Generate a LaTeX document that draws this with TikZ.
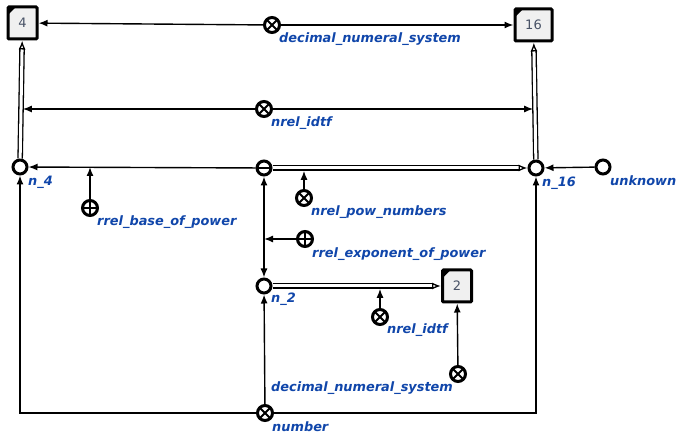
\documentclass[tikz,border=0pt]{standalone}
\usepackage{fontspec}
\usetikzlibrary{arrows.meta,positioning,calc}
\newfontfamily\scgfont{DejaVu Sans}
\definecolor{idtfblue}{RGB}{16,70,170}
\definecolor{linkgray}{RGB}{240,240,240}
\definecolor{linktext}{RGB}{72,82,102}

\tikzset{
  scgnode/.style={circle,draw,line width=3pt,fill=white,minimum size=14pt,inner sep=0pt},
  tuplenode/.style={scgnode,path picture={\draw[line width=2.4pt] (path picture bounding box.west) -- (path picture bounding box.east);}},
  relnode/.style={scgnode,minimum size=15pt,path picture={
      \draw[line width=2pt] (path picture bounding box.north west) -- (path picture bounding box.south east)
        (path picture bounding box.north east) -- (path picture bounding box.south west);}},
  rolenode/.style={scgnode,minimum size=15pt,path picture={
      \draw[line width=1.6pt] (path picture bounding box.north) -- (path picture bounding box.south)
        (path picture bounding box.west) -- (path picture bounding box.east);}},
  linkbox/.style={draw,line width=3pt,rounded corners=1pt,fill=linkgray,minimum width=29pt,minimum height=32pt,
      font=\scgfont\fontsize{13}{15}\selectfont,text=linktext,
      path picture={\fill[black] (path picture bounding box.north west) -- ++(8pt,0pt) -- ++(-8pt,-8pt) -- cycle;}},
  idtf/.style={font=\scgfont\bfseries\itshape\fontsize{12.9}{15}\selectfont,text=idtfblue,anchor=base west,inner sep=0pt},
  arc/.style={line width=1.4pt,-{Latex[length=9pt,width=7pt]}},
  biarc/.style={line width=1.4pt,{Latex[length=9pt,width=7pt]}-{Latex[length=9pt,width=7pt]}},
  commonarc/.style={double=white,double distance=3pt,line width=1.3pt,-{Latex[open,length=9pt,width=7pt]}},
  onpair/.style={shorten >=2.8pt}
}

\begin{document}
\begin{tikzpicture}[x=1pt,y=-1pt]
  \useasboundingbox (0,0) rectangle (685,443);

  % links
  \node[linkbox] (box4) at (22.5,23) {4};
  \node[linkbox,minimum width=37pt] (box16) at (533.5,25) {16};
  \node[linkbox] (box2) at (457,286) {2};

  % nodes
  \node[relnode] (dns1) at (272,25) {};
  \node[relnode] (nidtf1) at (264,109) {};
  \node[scgnode] (n4) at (20,167) {};
  \node[tuplenode] (tuple) at (264,168) {};
  \node[scgnode] (n16) at (536,168) {};
  \node[scgnode] (unknown) at (603,167) {};
  \node[rolenode] (rbase) at (90,208) {};
  \node[relnode] (npow) at (304,198) {};
  \node[rolenode] (rexp) at (305,239) {};
  \node[scgnode] (n2) at (264,286) {};
  \node[relnode] (nidtf2) at (380,317) {};
  \node[relnode] (dns2) at (458,374) {};
  \node[relnode] (number) at (265,413) {};

  % identifiers
  \node[idtf] at (279,43) {decimal\_numeral\_system};
  \node[idtf] at (271,127) {nrel\_idtf};
  \node[idtf] at (28,186) {n\_4};
  \node[idtf] at (542,187) {n\_16};
  \node[idtf] at (610,186) {unknown};
  \node[idtf] at (311,216) {nrel\_pow\_numbers};
  \node[idtf] at (97,226) {rrel\_base\_of\_power};
  \node[idtf] at (312,258) {rrel\_exponent\_of\_power};
  \node[idtf] at (271,303) {n\_2};
  \node[idtf] at (387,334) {nrel\_idtf};
  \node[idtf] at (271,391) {decimal\_numeral\_system};
  \node[idtf] at (272,431) {number};

  % arcs
  \draw[arc] (dns1) -- (box4);
  \draw[arc] (dns1) -- (box16);
  \draw[commonarc] (n4) -- (box4);
  \draw[commonarc] (n16) -- (box16);
  \draw[arc,onpair] (nidtf1) -- (n4 |- nidtf1);
  \draw[arc,onpair] (nidtf1) -- (n16 |- nidtf1);

  \draw[arc] (tuple) -- (n4);
  \draw[arc] (rbase) -- (rbase |- n4);
  \draw[commonarc] (tuple) -- (n16);
  \draw[arc,onpair] (npow) -- (npow |- tuple);
  \draw[arc] (unknown) -- (n16);

  \draw[biarc] (tuple) -- (n2);
  \draw[arc] (rexp) -- (rexp -| tuple);
  \draw[commonarc] (n2) -- (box2);
  \draw[arc,onpair] (nidtf2) -- (nidtf2 |- n2);
  \draw[arc] (dns2) -- (box2);

  \draw[arc] (number) -- (n2);
  \draw[arc] (number) -| (n4);
  \draw[arc] (number) -| (n16);
\end{tikzpicture}
\end{document}
